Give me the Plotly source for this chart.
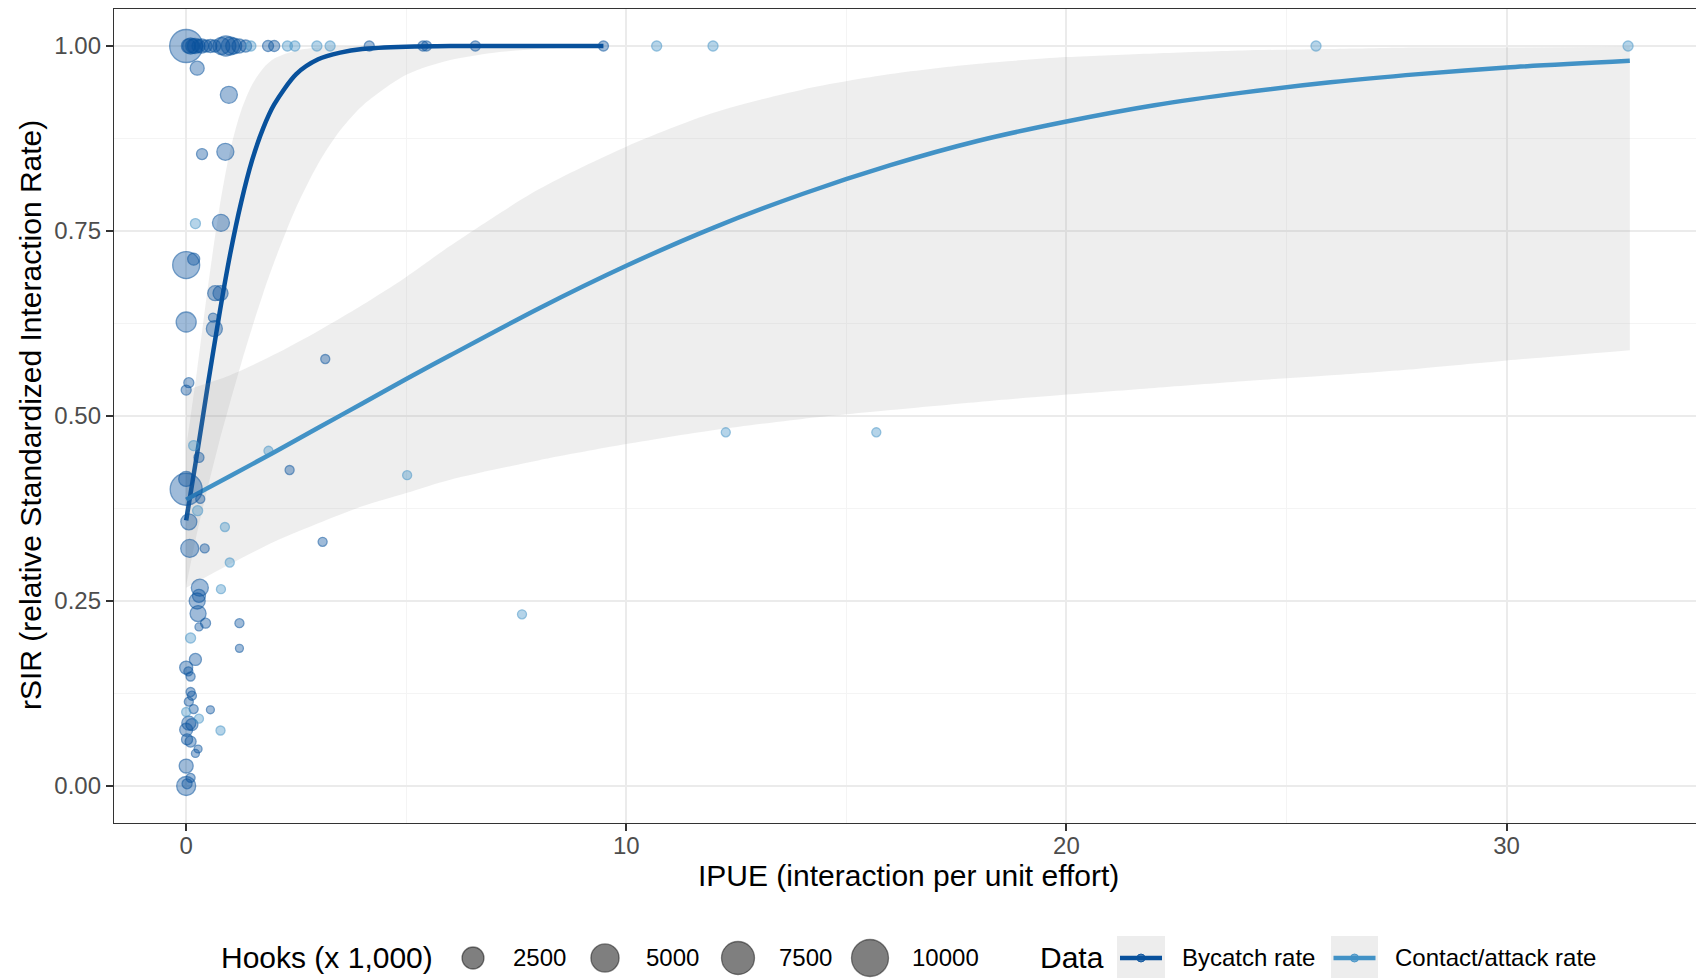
import plotly.graph_objects as go
import numpy as np

# ---------------- data ----------------
# Bycatch rate observations: IPUE, rSIR, hooks (x 1,000)
bycatch_x = [0.0, 0.05, 0.1, 0.15, 0.2, 0.28, 0.35, 0.45, 0.55, 0.65, 0.8, 0.9, 1.0, 1.08, 1.2, 1.35,
             1.86, 2.0, 4.16, 5.38, 5.46, 6.57, 9.48,
             0.25, 0.97, 0.36, 0.89, 0.79, 0.0, 0.17, 0.66, 0.78, 0.0, 0.61, 0.64, 0.06, 0.0, 3.16,
             0.29, 0.0, 0.0, 0.32, 0.06, 2.35, 0.08, 0.42, 3.1, 0.31, 0.29, 0.25, 0.27, 0.44, 0.29,
             1.21, 1.21, 0.21, 0.0, 0.05, 0.1, 0.1, 0.13, 0.06, 0.17, 0.55, 0.06, 0.13, 0.0, 0.02,
             0.1, 0.27, 0.21, 0.0, 0.1, 0.0, 0.02]
bycatch_y = [1.0, 1.0, 1.0, 1.0, 1.0, 1.0, 1.0, 1.0, 1.0, 1.0, 1.0, 1.0, 1.0, 1.0, 1.0, 1.0,
             1.0, 1.0, 1.0, 1.0, 1.0, 1.0, 1.0,
             0.97, 0.934, 0.854, 0.857, 0.761, 0.704, 0.712, 0.666, 0.666, 0.627, 0.633, 0.618, 0.545, 0.535, 0.577,
             0.444, 0.401, 0.415, 0.388, 0.357, 0.427, 0.321, 0.321, 0.33, 0.268, 0.257, 0.25, 0.233, 0.22, 0.215,
             0.22, 0.186, 0.171, 0.16, 0.155, 0.148, 0.127, 0.122, 0.114, 0.104, 0.103, 0.085, 0.083, 0.076, 0.063,
             0.06, 0.05, 0.044, 0.027, 0.011, 0.0, 0.003]
bycatch_hooks = [7510, 540, 900, 540, 710, 400, 540, 280, 400, 280, 1110, 1880, 1340, 900, 540, 280,
                 180, 180, 100, 100, 100, 100, 100,
                 540, 1110, 180, 1110, 1110, 4440, 280, 710, 710, 1880, 45, 900, 100, 100, 45,
                 100, 6940, 710, 45, 900, 45, 1340, 45, 45, 1110, 400, 900, 900, 100, 10,
                 45, 10, 280, 400, 45, 45, 45, 45, 45, 45, 10, 540, 280, 400, 180,
                 180, 10, 10, 540, 45, 1600, 100]

# Contact/attack rate observations
contact_x = [0.21, 0.17, 1.87, 0.26, 0.88, 0.99, 0.79, 0.1, 0.0, 0.29, 0.78, 5.02, 7.63, 12.26, 15.68,
             1.47, 2.3, 2.47, 2.97, 3.27, 10.69, 11.97, 25.67, 32.76]
contact_y = [0.76, 0.46, 0.453, 0.372, 0.35, 0.302, 0.266, 0.2, 0.1, 0.091, 0.075, 0.42, 0.232, 0.478, 0.478,
             1.0, 1.0, 1.0, 1.0, 1.0, 1.0, 1.0, 1.0, 1.0]
contact_hooks = [100, 100, 45, 100, 45, 45, 45, 100, 45, 45, 45, 45, 45, 45, 45,
                 100, 100, 100, 100, 100, 100, 100, 100, 100]

# Fitted curves and confidence ribbons
bycatch_fit_x = [0, 0.25, 0.5, 0.75, 1.0, 1.25, 1.5, 1.75, 2.0, 2.5, 3.0, 3.5, 4.0, 5.0, 6.0, 7.0, 8.0, 9.48]
bycatch_fit_y = [0.359, 0.450, 0.545, 0.636, 0.719, 0.789, 0.846, 0.889, 0.921, 0.962, 0.982, 0.991,
                 0.996, 0.999, 1.0, 1.0, 1.0, 1.0]
bycatch_lo = [0.271, 0.343, 0.406, 0.465, 0.519, 0.571, 0.620, 0.666, 0.708, 0.782, 0.841, 0.886,
              0.919, 0.961, 0.981, 0.991, 0.996, 0.999]
bycatch_hi = [0.458, 0.563, 0.677, 0.779, 0.859, 0.913, 0.948, 0.970, 0.983, 0.994, 0.998, 0.999,
              1.0, 1.0, 1.0, 1.0, 1.0, 1.0]

contact_fit_x = [0, 1, 2, 3, 4, 5, 6, 8, 10, 12, 14, 16, 18, 20, 22, 24, 26, 28, 30, 32.8]
contact_fit_y = [0.387, 0.419, 0.451, 0.484, 0.517, 0.550, 0.582, 0.645, 0.703, 0.755, 0.800, 0.839,
                 0.872, 0.898, 0.920, 0.937, 0.951, 0.962, 0.971, 0.980]
contact_lo = [0.268, 0.300, 0.330, 0.355, 0.378, 0.396, 0.414, 0.440, 0.462, 0.481, 0.496, 0.508,
              0.519, 0.529, 0.538, 0.547, 0.555, 0.564, 0.575, 0.589]
contact_hi = [0.535, 0.555, 0.583, 0.615, 0.650, 0.688, 0.730, 0.806, 0.864, 0.910, 0.941, 0.962,
              0.976, 0.985, 0.990, 0.994, 0.996, 0.998, 0.998, 0.999]

x_ticks = [0, 10, 20, 30]
x_minor = [5, 15, 25]
y_ticks = [0, 0.25, 0.5, 0.75, 1.0]
y_tick_labels = ["0.00", "0.25", "0.50", "0.75", "1.00"]
y_minor = [0.125, 0.375, 0.625, 0.875]
size_breaks = [2500, 5000, 7500, 10000]

# ---------------- styling ----------------
DARK = (8, 81, 156)
LIGHT = (66, 146, 198)
FONT = "Liberation Sans, Arial, sans-serif"


def rgba(c, a):
    return f"rgba({c[0]},{c[1]},{c[2]},{a})"


def size_px(h):
    return 7.0 + 0.3 * np.sqrt(np.asarray(h, dtype=float))


fig = go.Figure()

# ribbons + lines
for fx, fy, lo, hi, col in [
    (bycatch_fit_x, bycatch_fit_y, bycatch_lo, bycatch_hi, DARK),
    (contact_fit_x, contact_fit_y, contact_lo, contact_hi, LIGHT),
]:
    fig.add_trace(go.Scatter(
        x=fx, y=lo, mode="lines", line=dict(width=0, shape="spline", smoothing=0.8),
        hoverinfo="skip", showlegend=False))
    fig.add_trace(go.Scatter(
        x=fx, y=hi, mode="lines", line=dict(width=0, shape="spline", smoothing=0.8),
        fill="tonexty", fillcolor="rgba(153,153,153,0.17)",
        hoverinfo="skip", showlegend=False))
    fig.add_trace(go.Scatter(
        x=fx, y=fy, mode="lines", line=dict(color=rgba(col, 1), width=4.5, shape="spline", smoothing=0.8),
        hoverinfo="skip", showlegend=False))

# points
for xs, ys, hs, col in [
    (bycatch_x, bycatch_y, bycatch_hooks, DARK),
    (contact_x, contact_y, contact_hooks, LIGHT),
]:
    fig.add_trace(go.Scatter(
        x=xs, y=ys, mode="markers",
        marker=dict(size=size_px(hs), color=rgba(col, 0.55),
                    line=dict(color=rgba(col, 0.8), width=1.3)),
        showlegend=False, hoverinfo="skip"))

# page offset (browser body margin) and figure geometry
OFF = 8
W, H = 1704 - OFF, 978 - OFF
L, R, T, B = 114 - OFF, 2, 1, 155
pw, ph = W - L - R, H - T - B


def px_x(page_px):
    return (page_px - OFF - L) / pw


def px_y(page_py):
    return (H - B - (page_py - OFF)) / ph


grid_major = "#ebebeb"
grid_minor = "#f4f4f4"

fig.update_xaxes(
    range=[-1.64, 34.44], tickvals=x_ticks, ticktext=[str(v) for v in x_ticks],
    showgrid=True, gridcolor=grid_major, gridwidth=1.6, zeroline=False,
    minor=dict(tickvals=x_minor, showgrid=True, gridcolor=grid_minor, gridwidth=1.2, ticks=""),
    showline=True, linecolor="#333333", linewidth=1.3, mirror=True,
    ticks="outside", ticklen=7, tickwidth=1.5, tickcolor="#333333", ticklabelstandoff=-6,
    tickfont=dict(family=FONT, size=24, color="#4d4d4d"),
)
fig.update_yaxes(
    range=[-0.05, 1.05], tickvals=y_ticks, ticktext=y_tick_labels,
    showgrid=True, gridcolor=grid_major, gridwidth=1.6, zeroline=False,
    minor=dict(tickvals=y_minor, showgrid=True, gridcolor=grid_minor, gridwidth=1.2, ticks=""),
    showline=True, linecolor="#333333", linewidth=1.3, mirror=True,
    ticks="outside", ticklen=7, tickwidth=1.5, tickcolor="#333333",
    tickfont=dict(family=FONT, size=24, color="#4d4d4d"),
)

annotations = [
    dict(text="IPUE (interaction per unit effort)", x=px_x(908), y=px_y(876), xref="paper", yref="paper",
         xanchor="center", yanchor="middle", showarrow=False, font=dict(family=FONT, size=30, color="black")),
    dict(text="rSIR (relative Standardized Interaction Rate)", x=px_x(31), y=px_y(415), xref="paper",
         yref="paper", xanchor="center", yanchor="middle", textangle=-90, showarrow=False,
         font=dict(family=FONT, size=30, color="black")),
    dict(text="Hooks (x 1,000)", x=px_x(219), y=px_y(958), xref="paper", yref="paper",
         xanchor="left", yanchor="middle", showarrow=False, font=dict(family=FONT, size=30, color="black")),
    dict(text="Data", x=px_x(1038), y=px_y(958), xref="paper", yref="paper",
         xanchor="left", yanchor="middle", showarrow=False, font=dict(family=FONT, size=30, color="black")),
    dict(text="Bycatch rate", x=px_x(1180), y=px_y(958), xref="paper", yref="paper",
         xanchor="left", yanchor="middle", showarrow=False, font=dict(family=FONT, size=24, color="black")),
    dict(text="Contact/attack rate", x=px_x(1393), y=px_y(958), xref="paper", yref="paper",
         xanchor="left", yanchor="middle", showarrow=False, font=dict(family=FONT, size=24, color="black")),
]

shapes = []
circle_centers = [473, 605, 738, 870]
label_lefts = [511, 644, 777, 910]
for b, cx, lx in zip(size_breaks, circle_centers, label_lefts):
    r = float(size_px(b)) / 2
    shapes.append(dict(type="circle", xref="paper", yref="paper", xsizemode="pixel", ysizemode="pixel",
                       xanchor=px_x(cx), yanchor=px_y(958), x0=-r, x1=r, y0=-r, y1=r,
                       fillcolor="rgba(0,0,0,0.5)", line=dict(color="rgba(0,0,0,0.45)", width=1.3)))
    annotations.append(dict(text=str(b), x=px_x(lx), y=px_y(958), xref="paper", yref="paper",
                            xanchor="left", yanchor="middle", showarrow=False,
                            font=dict(family=FONT, size=24, color="black")))

for (k0, k1), col in [((1117, 1165), DARK), ((1331, 1378), LIGHT)]:
    shapes.append(dict(type="rect", xref="paper", yref="paper", x0=px_x(k0), x1=px_x(k1),
                       y0=px_y(936), y1=px_y(980), fillcolor="#ededed", line=dict(width=0)))
    cx = px_x((k0 + k1) / 2)
    shapes.append(dict(type="line", xref="paper", yref="paper", xsizemode="pixel", ysizemode="pixel",
                       xanchor=cx, yanchor=px_y(958), x0=-21, x1=21, y0=0, y1=0,
                       line=dict(color=rgba(col, 1), width=4.5)))
    shapes.append(dict(type="circle", xref="paper", yref="paper", xsizemode="pixel", ysizemode="pixel",
                       xanchor=cx, yanchor=px_y(958), x0=-4, x1=4, y0=-4, y1=4,
                       fillcolor=rgba(col, 0.7), line=dict(color=rgba(col, 0.9), width=1)))

fig.update_layout(
    width=W, height=H,
    margin=dict(l=L, r=R, t=T, b=B, pad=0),
    paper_bgcolor="white", plot_bgcolor="white",
    showlegend=False,
    annotations=annotations, shapes=shapes,
    font=dict(family=FONT),
)

fig.write_html("out.html")
